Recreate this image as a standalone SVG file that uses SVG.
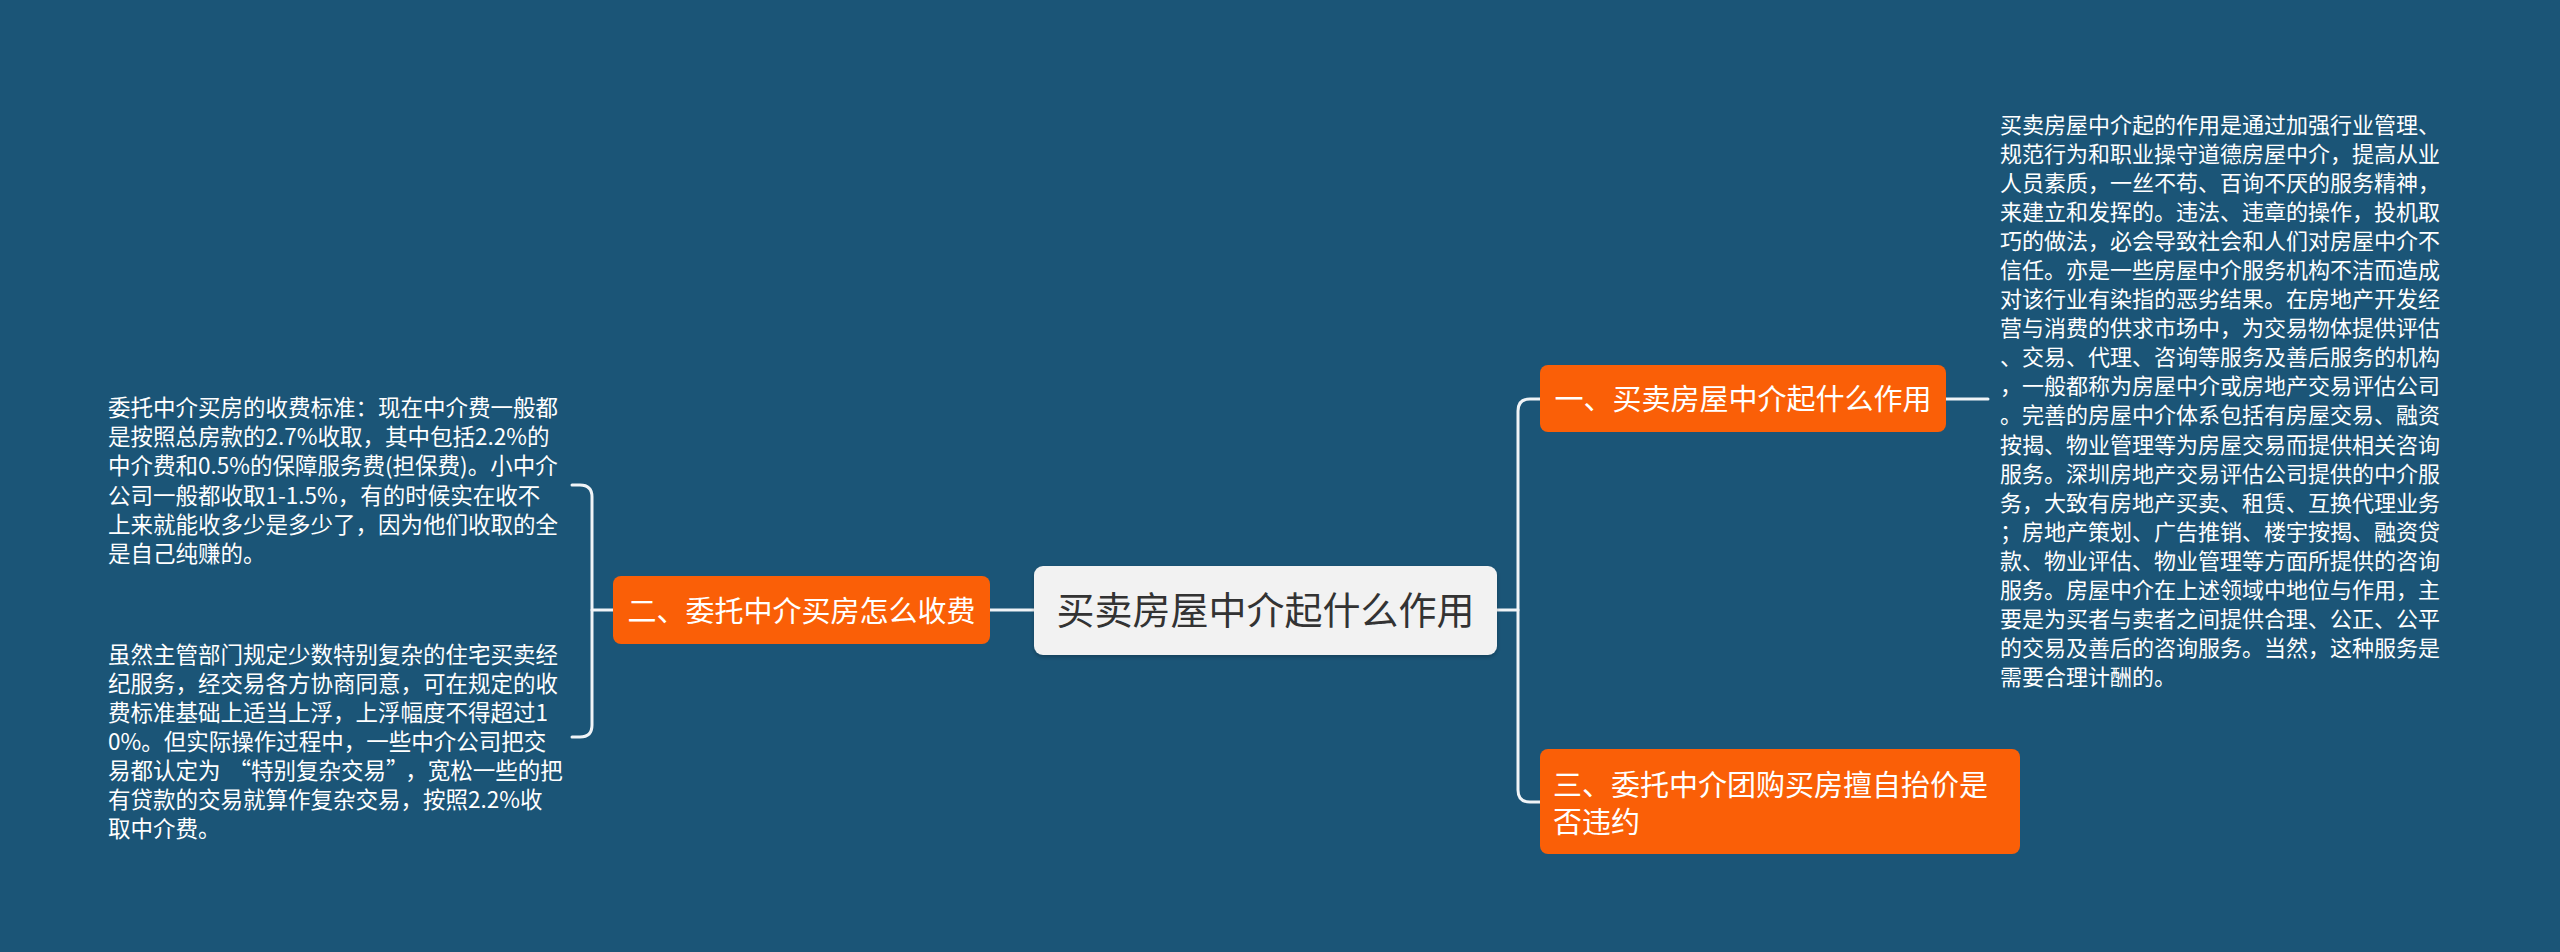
<svg xmlns="http://www.w3.org/2000/svg" width="2560" height="952" viewBox="0 0 2560 952">
<defs>
<style>
.bg{fill:#1b5577}
.line{fill:none;stroke:#f0f4f7;stroke-width:3;stroke-linecap:round}
.orange{fill:#fa5f07}
.center{fill:#f2f2f2}
.t{font-family:"Noto Sans CJK SC","Liberation Sans",sans-serif}
.body{font-size:22px;fill:#ffffff}
.bodyl{font-size:22.5px;fill:#ffffff}
.lbl{font-size:29px;fill:#ffffff}
.ctext{font-size:38px;fill:#333333}
</style>
<filter id="sh" x="-10%" y="-20%" width="120%" height="150%">
<feDropShadow dx="0" dy="2" stdDeviation="2" flood-color="#000" flood-opacity="0.25"/>
</filter>
</defs>
<rect class="bg" x="0" y="0" width="2560" height="952"/>
<g id="connectors">
<path class="line" d="M1497 610 H1518"/>
<path class="line" d="M1540 399 H1530 Q1518 399 1518 411 V790 Q1518 802 1530 802 H1540"/>
<path class="line" d="M1946 399 H1988"/>
<path class="line" d="M990 610 H1034"/>
<path class="line" d="M613 610 H592"/>
<path class="line" d="M572 485 H580 Q592 485 592 497 V725 Q592 737 580 737 H572"/>
</g>
<g id="root">
<rect class="center" x="1034" y="566" width="463" height="89" rx="9" filter="url(#sh)"/>
<text class="t ctext" x="1265.5" y="624" text-anchor="middle">买卖房屋中介起什么作用</text>
</g>
<g id="node1">
<rect class="orange" x="1540" y="365" width="406" height="67" rx="8"/>
<text class="t lbl" x="1743" y="410" text-anchor="middle">一、买卖房屋中介起什么作用</text>
</g>
<g id="node1-detail">
<text class="t body">
<tspan x="2000" y="133">买卖房屋中介起的作用是通过加强行业管理、</tspan>
<tspan x="2000" y="162">规范行为和职业操守道德房屋中介，提高从业</tspan>
<tspan x="2000" y="191">人员素质，一丝不苟、百询不厌的服务精神，</tspan>
<tspan x="2000" y="220">来建立和发挥的。违法、违章的操作，投机取</tspan>
<tspan x="2000" y="249">巧的做法，必会导致社会和人们对房屋中介不</tspan>
<tspan x="2000" y="278">信任。亦是一些房屋中介服务机构不洁而造成</tspan>
<tspan x="2000" y="307">对该行业有染指的恶劣结果。在房地产开发经</tspan>
<tspan x="2000" y="336">营与消费的供求市场中，为交易物体提供评估</tspan>
<tspan x="2000" y="365">、交易、代理、咨询等服务及善后服务的机构</tspan>
<tspan x="2000" y="394">，一般都称为房屋中介或房地产交易评估公司</tspan>
<tspan x="2000" y="423">。完善的房屋中介体系包括有房屋交易、融资</tspan>
<tspan x="2000" y="453">按揭、物业管理等为房屋交易而提供相关咨询</tspan>
<tspan x="2000" y="482">服务。深圳房地产交易评估公司提供的中介服</tspan>
<tspan x="2000" y="511">务，大致有房地产买卖、租赁、互换代理业务</tspan>
<tspan x="2000" y="540">；房地产策划、广告推销、楼宇按揭、融资贷</tspan>
<tspan x="2000" y="569">款、物业评估、物业管理等方面所提供的咨询</tspan>
<tspan x="2000" y="598">服务。房屋中介在上述领域中地位与作用，主</tspan>
<tspan x="2000" y="627">要是为买者与卖者之间提供合理、公正、公平</tspan>
<tspan x="2000" y="656">的交易及善后的咨询服务。当然，这种服务是</tspan>
<tspan x="2000" y="685">需要合理计酬的。</tspan>
</text>
</g>
<g id="node2">
<rect class="orange" x="613" y="576" width="377" height="68" rx="8"/>
<text class="t lbl" x="801.5" y="622" text-anchor="middle">二、委托中介买房怎么收费</text>
</g>
<g id="node2-detail1">
<text class="t bodyl">
<tspan x="108" y="416">委托中介买房的收费标准：现在中介费一般都</tspan>
<tspan x="108" y="445">是按照总房款的2.7%收取，其中包括2.2%的</tspan>
<tspan x="108" y="474">中介费和0.5%的保障服务费(担保费)。小中介</tspan>
<tspan x="108" y="504">公司一般都收取1-1.5%，有的时候实在收不</tspan>
<tspan x="108" y="533">上来就能收多少是多少了，因为他们收取的全</tspan>
<tspan x="108" y="562">是自己纯赚的。</tspan>
</text>
</g>
<g id="node2-detail2">
<text class="t bodyl">
<tspan x="108" y="663">虽然主管部门规定少数特别复杂的住宅买卖经</tspan>
<tspan x="108" y="692">纪服务，经交易各方协商同意，可在规定的收</tspan>
<tspan x="108" y="721">费标准基础上适当上浮，上浮幅度不得超过1</tspan>
<tspan x="108" y="750">0%。但实际操作过程中，一些中介公司把交</tspan>
<tspan x="108" y="779">易都认定为<tspan dx="8">“</tspan>特别复杂交易”<tspan dx="8">，宽松一些的把</tspan></tspan>
<tspan x="108" y="808">有贷款的交易就算作复杂交易，按照2.2%收</tspan>
<tspan x="108" y="837">取中介费。</tspan>
</text>
</g>
<g id="node3">
<rect class="orange" x="1540" y="749" width="480" height="105" rx="8"/>
<text class="t lbl">
<tspan x="1553" y="796">三、委托中介团购买房擅自抬价是</tspan>
<tspan x="1553" y="833">否违约</tspan>
</text>
</g>
</svg>
